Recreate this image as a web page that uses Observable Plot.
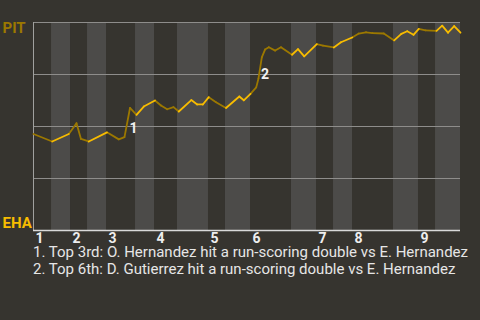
<!DOCTYPE html>
<html>
<head>
<meta charset="utf-8">
<script src="https://cdn.jsdelivr.net/npm/d3@7"></script>
<script src="https://cdn.jsdelivr.net/npm/@observablehq/plot@0.6"></script>
<style>
  html, body { margin: 0; background: #36342f; }
  #chart svg { display: block; }
  .notes {
    font-family: Roboto, sans-serif;
    font-size: 15px;
    line-height: 17.4px;
    color: #e6e6e6;
    padding-left: 33px;
    margin-top: -6px;
    white-space: nowrap;
  }
</style>
</head>
<body>
<div id="chart"></div>
<div class="notes" id="notes"></div>
<script>
// Teams: away team wins at the top of the chart, home team at the bottom
const awayTeam = "PIT";
const homeTeam = "EHA";

// Game progress (0–100) where each half-inning begins; top halves at even indices
const halfInningStarts = [0, 4.22, 8.67, 12.65, 17.10, 23.89, 28.34, 33.72, 40.98,
  44.96, 50.82, 60.42, 66.28, 70.26, 74.71, 84.31, 90.16, 94.15];
const gameEnd = 100;
const innings = [1, 2, 3, 4, 5, 6, 7, 8, 9];

// Away-team win probability (%) after each play, against game progress
const progress = [0, 4.38, 8.27, 10.07, 11.12, 12.95, 17.21, 19.98, 21.31, 22.60,
  24.12, 25.83, 28.45, 29.86, 31.31, 32.79, 34.03, 36.96, 38.34, 39.65,
  41.05, 42.74, 45.08, 48.20, 49.25, 50.82, 52.16, 52.69, 53.47, 54.22,
  55.11, 56.60, 57.96, 60.54, 61.94, 63.40, 66.35, 67.80, 70.33, 72.01,
  74.64, 76.18, 77.87, 79.39, 82.04, 84.47, 86.14, 87.52, 88.99, 90.23,
  91.80, 94.38, 95.71, 97.07, 98.52, 100];
const winProb = [46.4, 42.8, 46.4, 51.6, 44.0, 42.8, 47.2, 43.8, 44.9, 58.9,
  55.6, 59.6, 62.5, 60.1, 58.3, 59.3, 57.2, 62.7, 60.6, 60.6,
  64.1, 61.7, 58.9, 64.4, 62.6, 65.7, 68.8, 73.1, 83.2, 87.0,
  88.1, 86.5, 88.1, 84.5, 87.2, 83.7, 89.6, 88.9, 88.0, 90.5,
  92.8, 94.7, 95.3, 94.9, 94.7, 91.4, 94.5, 95.8, 94.1, 96.9,
  96.2, 96.0, 98.5, 95.1, 98.3, 95.1];

// Key plays: marker id, where the marker sits, and its description
const noteIds = ["1", "2"];
const noteProgress = [22.48, 53.28];
const noteWinProb = [48.8, 74.8];
const noteTexts = [
  "Top 3rd: O. Hernandez hit a run-scoring double vs E. Hernandez",
  "Top 6th: D. Gutierrez hit a run-scoring double vs E. Hernandez"
];

const gridLevels = [25, 50, 75];

const awayColor = "#9c7800";   // line while the away team bats (top halves)
const homeColor = "#f8bc00";   // line while the home team bats (bottom halves)

// Half-inning bands
const bands = halfInningStarts.map((x1, i) => ({
  x1,
  x2: i + 1 < halfInningStarts.length ? halfInningStarts[i + 1] : gameEnd,
  bottom: i % 2 === 1
}));

const halfOf = (x) => {
  let h = 0;
  for (let i = 0; i < halfInningStarts.length; i++) if (x >= halfInningStarts[i]) h = i;
  return h;
};

// One segment per consecutive pair of plays, coloured by the half-inning it falls in
const segments = progress.slice(1).map((x2, i) => {
  const x1 = progress[i];
  return {x1, y1: winProb[i], x2, y2: winProb[i + 1], bottom: halfOf((x1 + x2) / 2) % 2 === 1};
});

const inningLabels = innings.map((n, i) => ({n, x: halfInningStarts[2 * i]}));
const notes = noteIds.map((id, i) => ({id, x: noteProgress[i], y: noteWinProb[i], text: noteTexts[i]}));

const chart = Plot.plot({
  width: 480,
  height: 250,
  marginLeft: 33,
  marginRight: 20,
  marginTop: 22,
  marginBottom: 20,
  style: {background: "transparent", fontFamily: "Roboto, sans-serif"},
  x: {domain: [0, gameEnd], axis: null},
  y: {domain: [0, 100], axis: null},
  marks: [
    Plot.rect(bands.filter(b => b.bottom), {x1: "x1", x2: "x2", y1: 0, y2: 100, fill: "#4c4b49"}),
    Plot.ruleY(gridLevels, {stroke: "#8e8d8b", strokeWidth: 1}),
    Plot.ruleY([100], {stroke: "#8e8d8b", strokeWidth: 1}),
    Plot.ruleX([0], {stroke: "#a0a09e", strokeWidth: 1}),
    Plot.ruleY([0], {stroke: "#d9d9d9", strokeWidth: 1.5}),
    Plot.link(segments.filter(s => !s.bottom), {
      x1: "x1", y1: "y1", x2: "x2", y2: "y2",
      stroke: awayColor, strokeWidth: 1.8, strokeLinecap: "round"
    }),
    Plot.link(segments.filter(s => s.bottom), {
      x1: "x1", y1: "y1", x2: "x2", y2: "y2",
      stroke: homeColor, strokeWidth: 1.8, strokeLinecap: "round"
    }),
    Plot.text(notes, {
      x: "x", y: "y", text: "id", textAnchor: "start",
      fill: "#f2f2f2", fontWeight: "bold", fontSize: 14
    }),
    Plot.text(inningLabels, {
      x: "x", y: 0, text: d => String(d.n), textAnchor: "start",
      dx: 2, dy: 8, fill: "#eeeeee", fontWeight: "bold", fontSize: 14
    }),
    Plot.text([awayTeam], {
      frameAnchor: "top-left", text: d => d, textAnchor: "start", lineAnchor: "top",
      dx: -31, fill: awayColor, fontWeight: "bold", fontSize: 15
    }),
    Plot.text([homeTeam], {
      frameAnchor: "bottom-left", text: d => d, textAnchor: "start", lineAnchor: "bottom",
      dx: -31, dy: -3, fill: homeColor, fontWeight: "bold", fontSize: 15
    })
  ]
});

document.getElementById("chart").append(chart);

const notesEl = document.getElementById("notes");
for (const n of notes) {
  const line = document.createElement("div");
  line.textContent = `${n.id}. ${n.text}`;
  notesEl.append(line);
}
</script>
</body>
</html>
